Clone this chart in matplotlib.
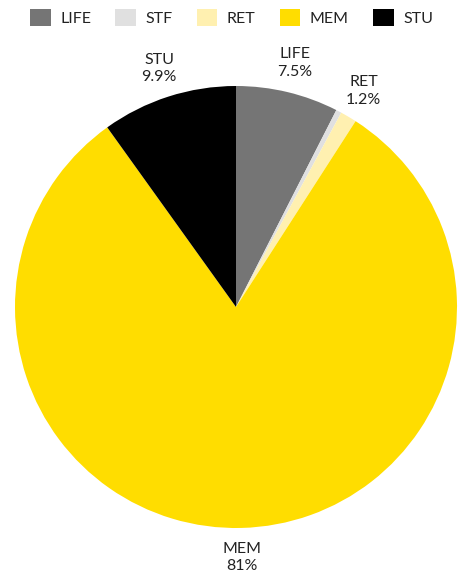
import numpy as np
import matplotlib.pyplot as plt
from matplotlib.patches import Patch

plt.rcParams['font.family'] = ['Lato', 'DejaVu Sans']

categories = ['LIFE', 'STF', 'RET', 'MEM', 'STU']
shares = [7.5, 0.4, 1.2, 81, 9.9]
colors = ['#757575', '#e0e0e0', '#fff0b0', '#ffdd00', '#000000']
pct_labels = ['7.5%', '', '1.2%', '81%', '9.9%']

fig = plt.figure(figsize=(4.63, 5.73), dpi=100)
ax = fig.add_axes([15 / 463, 45 / 573, 442 / 463, 442 / 573])

wedges, _ = ax.pie(shares, colors=colors, startangle=90, counterclock=False,
                   radius=1, wedgeprops=dict(linewidth=0))
ax.set_xlim(-1, 1)
ax.set_ylim(-1, 1)

# labels outside the pie, skip the tiny slice
for w, name, pct, val in zip(wedges, categories, pct_labels, shares):
    if val < 1:
        continue
    mid = np.deg2rad((w.theta1 + w.theta2) / 2)
    x = 1.135 * np.cos(mid)
    y = 1.135 * np.sin(mid)
    ax.text(x, y, name + '\n' + pct, ha='center', va='center',
            fontsize=11.5, color='#222222', linespacing=1.3, clip_on=False)

handles = [Patch(facecolor=c, edgecolor='none') for c in colors]
fig.legend(handles, categories, loc='upper center', ncol=5, frameon=False,
           fontsize=11.5, bbox_to_anchor=(0.5, 1.01), handlelength=1.3,
           handleheight=1.3, handletextpad=0.6, columnspacing=1.5,
           labelcolor='#222222')

fig.savefig('out.png', dpi=100)
